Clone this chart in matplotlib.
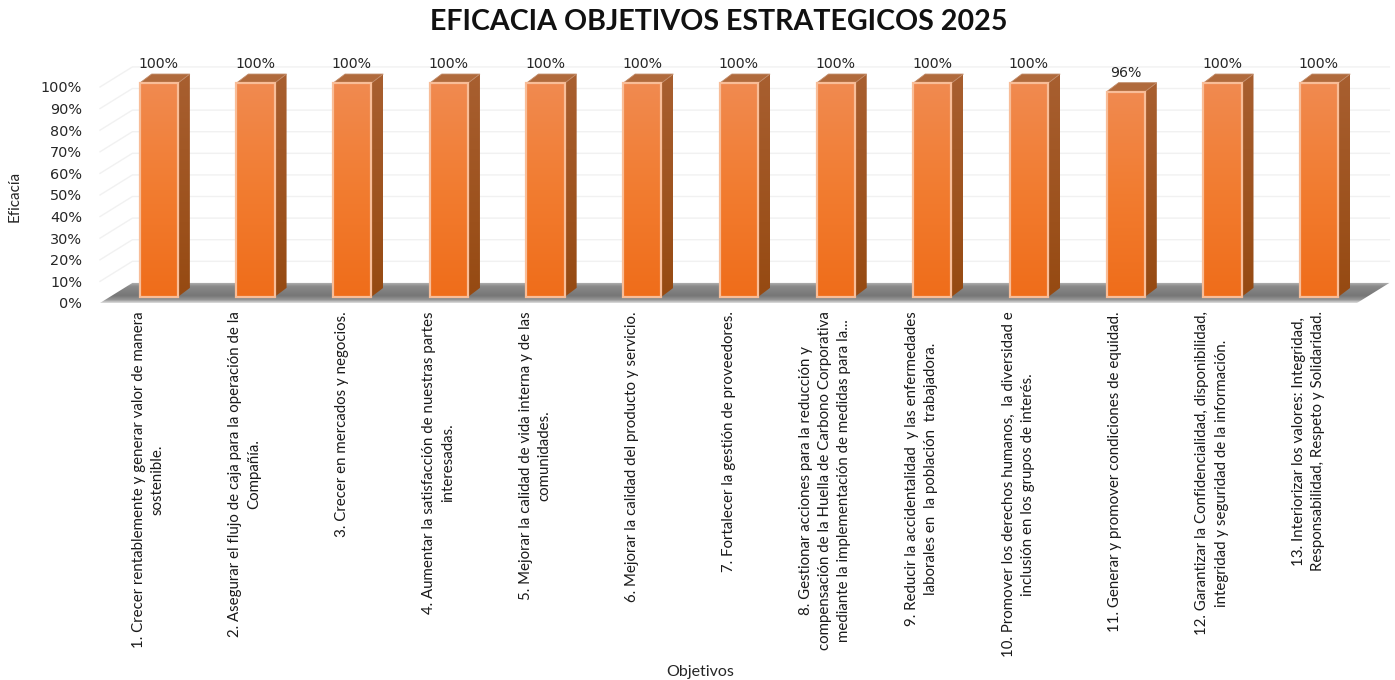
import numpy as np
import matplotlib.pyplot as plt
from matplotlib.colors import to_rgb
from matplotlib.patches import Polygon, Rectangle

objetivos = [
    "1. Crecer rentablemente y generar valor de manera\nsostenible.",
    "2. Asegurar el flujo de caja para la operación de la\nCompañía.",
    "3. Crecer en mercados y negocios.",
    "4. Aumentar la satisfacción de nuestras partes\ninteresadas.",
    "5. Mejorar la calidad de vida interna y de las\ncomunidades.",
    "6. Mejorar la calidad del producto y servicio.",
    "7. Fortalecer la gestión de proveedores.",
    "8. Gestionar acciones para la reducción y\ncompensación de la Huella de Carbono Corporativa\nmediante la implementación de medidas para la...",
    "9. Reducir la accidentalidad  y las enfermedades\nlaborales en  la población  trabajadora.",
    "10. Promover los derechos humanos,  la diversidad e\ninclusión en los grupos de interés.",
    "11. Generar y promover condiciones de equidad.",
    "12. Garantizar la Confidencialidad, disponibilidad,\nintegridad y seguridad de la información.",
    "13. Interiorizar los valores: Integridad,\nResponsabilidad, Respeto y Solidaridad.",
]
eficacia = [100, 100, 100, 100, 100, 100, 100, 100, 100, 100, 96, 100, 100]
y_ticks = [0, 10, 20, 30, 40, 50, 60, 70, 80, 90, 100]

# fake 3d: shift of the back wall and of the bars, in data units
wall_dx, wall_dy = 0.335, 9.3
bar_x, bar_y = 0.108, 2.8
bar_w = 0.395
side_dx, side_dy = 0.124, 4.2


def gradient(stops):
    pos = np.linspace(0, 1, 80)
    rgb = np.array([to_rgb(c) for _, c in stops])
    at = [p for p, _ in stops]
    return np.stack([np.interp(pos, at, rgb[:, k]) for k in range(3)], axis=1)[:, None, :]


fig = plt.figure(figsize=(13.95, 6.8), dpi=100)
ax = fig.add_axes([100 / 1395, 377 / 680, 1257 / 1395, 216 / 680])
ax.set_xlim(-0.5, 12.5)
ax.set_ylim(0, 100)
for s in ax.spines.values():
    s.set_visible(False)

# wall lines
for v in y_ticks[1:]:
    ax.plot([-0.5, -0.5 + wall_dx, 12.5 + wall_dx], [v, v + wall_dy, v + wall_dy],
            color="#f1f1f1", lw=1, zorder=1, clip_on=False)

# floor
floor = Polygon([(-0.5, 0), (-0.5 + wall_dx, wall_dy), (12.5 + wall_dx, wall_dy), (12.5, 0)],
                closed=True, fc="none", ec="none")
ax.add_patch(floor)
im = ax.imshow(gradient([(0, "#b8b8b8"), (0.2, "#8a8a8a"), (0.65, "#767676"), (0.85, "#969696"), (1, "#dedede")]),
               extent=(-0.5, 12.5 + wall_dx, 0, wall_dy), aspect="auto", zorder=2)
im.set_clip_box(fig.bbox)
im.set_clip_path(floor)

# bars
for i, v in enumerate(eficacia):
    x0 = i - bar_w / 2 + bar_x
    x1 = x0 + bar_w
    y0 = bar_y
    y1 = v + bar_y - 1
    side = Polygon([(x1, y0), (x1 + side_dx, y0 + side_dy), (x1 + side_dx, y1 + side_dy), (x1, y1)],
                   closed=True, fc="none", ec="none")
    ax.add_patch(side)
    s = ax.imshow(gradient([(0, "#a85f30"), (1, "#964a12")]), extent=(x1, x1 + side_dx, y0, y1 + side_dy),
                  aspect="auto", zorder=3)
    s.set_clip_box(fig.bbox)
    s.set_clip_path(side)
    ax.add_patch(Polygon([(x0, y1), (x0 + side_dx, y1 + side_dy), (x1 + side_dx, y1 + side_dy), (x1, y1)],
                         closed=True, fc="#b06a3c", ec="#c08a68", lw=0.6, zorder=3, clip_on=False))
    ax.imshow(gradient([(0, "#f08a50"), (0.5, "#f27c30"), (1, "#ef6d1a")]), extent=(x0, x1, y0, y1),
              aspect="auto", zorder=4, clip_on=False)
    ax.add_patch(Rectangle((x0, y0), bar_w, y1 - y0, fc="none", ec="#f8bd98", lw=1.6, zorder=5, clip_on=False))
    ax.text(i + 0.105, v + 10.6, f"{v}%", ha="center", va="center", fontsize=10.2, color="#262626",
            zorder=6, clip_on=False)

ax.set_xlim(-0.5, 12.5)
ax.set_ylim(0, 100)

ax.set_yticks(y_ticks)
ax.set_yticklabels([f"{v}%" for v in y_ticks], fontsize=10.4, color="#262626")
ax.set_xticks(range(len(objetivos)))
ax.set_xticklabels(objetivos, rotation=90, ha="center", va="top", ma="center", linespacing=1.47,
                   family="Lato", fontsize=10.85, color="#1a1a1a")
ax.tick_params(axis="both", length=0)
ax.tick_params(axis="x", pad=6)
ax.tick_params(axis="y", pad=13)

fig.text(719 / 1395, 1 - 22 / 680, "EFICACIA OBJETIVOS ESTRATEGICOS 2025", ha="center", va="center",
         fontsize=20.6, fontweight="bold", family="Lato", color="#111111")
fig.text(15 / 1395, 1 - 196 / 680, "Eficacía", rotation=90, ha="center", va="center", fontsize=11,
         family="Lato", color="#262626")
fig.text(700 / 1395, 1 - 672 / 680, "Objetivos", ha="center", va="center", fontsize=11.5,
         family="Lato", color="#262626")

fig.savefig("out.png", dpi=100)
